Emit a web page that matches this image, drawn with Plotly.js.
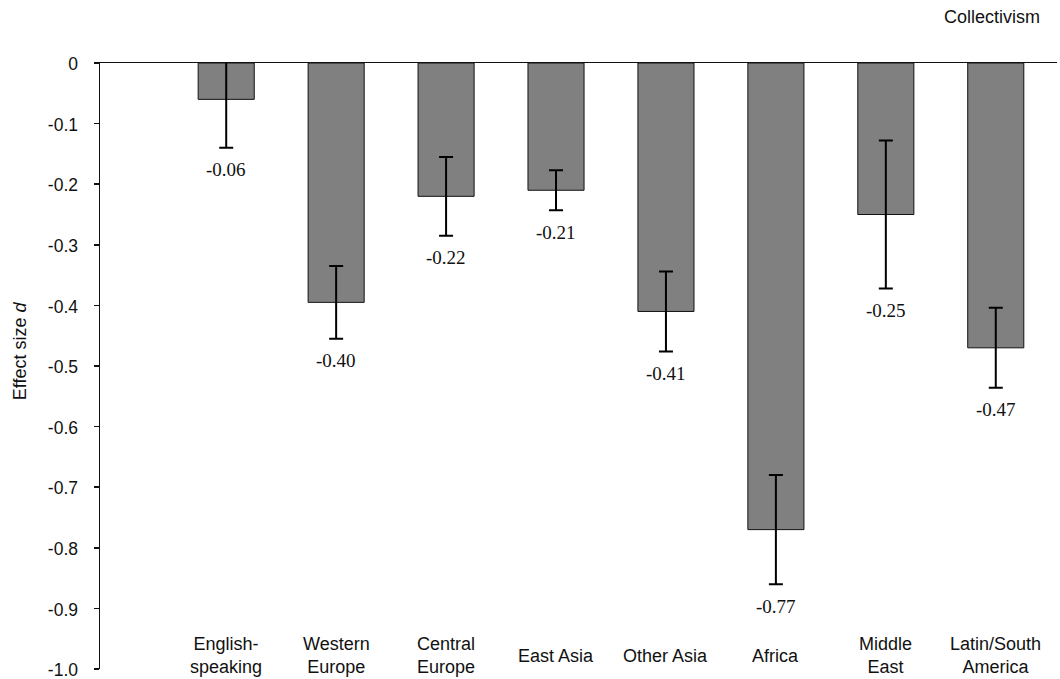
<!DOCTYPE html>
<html>
<head>
<meta charset="utf-8">
<script src="https://cdn.plot.ly/plotly-3.0.1.min.js"></script>
<style>html,body{margin:0;padding:0;background:#fff;}#chart{width:1060px;height:679px;}</style>
</head>
<body>
<div id="chart"></div>
<script>
// Data
var categories = ["English-<br>speaking", "Western<br>Europe", "Central<br>Europe", "East Asia", "Other Asia", "Africa", "Middle<br>East", "Latin/South<br>America"];
var effectSizes = [-0.06, -0.395, -0.22, -0.21, -0.41, -0.77, -0.25, -0.47];
var valueLabels = ["-0.06", "-0.40", "-0.22", "-0.21", "-0.41", "-0.77", "-0.25", "-0.47"];
var errors = [0.08, 0.06, 0.065, 0.033, 0.066, 0.09, 0.122, 0.066];
var yTickVals = [0, -0.1, -0.2, -0.3, -0.4, -0.5, -0.6, -0.7, -0.8, -0.9, -1.0];
var yTickText = ["0", "-0.1", "-0.2", "-0.3", "-0.4", "-0.5", "-0.6", "-0.7", "-0.8", "-0.9", "-1.0"];

var xIdx = categories.map(function (c, i) { return i; });

var trace = {
  type: 'bar',
  x: xIdx,
  y: effectSizes,
  width: 0.51,
  marker: { color: '#808080', line: { color: '#111', width: 1 } },
  error_y: { type: 'data', array: errors, visible: true, color: '#000', thickness: 2, width: 7 },
  hoverinfo: 'skip',
  cliponaxis: true
};

var annotations = [];
categories.forEach(function (c, i) {
  annotations.push({
    x: i, xref: 'x', y: 0.022, yref: 'paper', yanchor: 'middle', xanchor: 'center',
    text: c, showarrow: false, align: 'center',
    font: { family: 'Liberation Sans, Arial, sans-serif', size: 18, color: '#111' }
  });
  annotations.push({
    x: i, xref: 'x', y: effectSizes[i] - errors[i], yref: 'y', yanchor: 'middle', xanchor: 'center',
    yshift: -22, text: valueLabels[i], showarrow: false,
    font: { family: 'Liberation Serif, Times New Roman, serif', size: 19, color: '#111' }
  });
});
annotations.push({
  x: -0.0836, xref: 'paper', y: 0.526, yref: 'paper', xanchor: 'center', yanchor: 'middle',
  text: 'Effect size <i>d</i>', textangle: -90, showarrow: false,
  font: { family: 'Liberation Sans, Arial, sans-serif', size: 18, color: '#111' }
});
annotations.push({
  x: 0.984, xref: 'paper', y: 1.0753, yref: 'paper', xanchor: 'right', yanchor: 'middle',
  text: 'Collectivism', showarrow: false,
  font: { family: 'Liberation Sans, Arial, sans-serif', size: 18, color: '#111' }
});

var layout = {
  width: 1060, height: 679,
  margin: { l: 100, r: 3, t: 62.7, b: 9.7, pad: 0 },
  paper_bgcolor: '#fff', plot_bgcolor: '#fff',
  showlegend: false,
  xaxis: {
    range: [-1.148, 7.557], side: 'top', showline: true, linecolor: '#111', linewidth: 1.5,
    showticklabels: false, ticks: '', showgrid: false, zeroline: false, fixedrange: true
  },
  yaxis: {
    range: [-1.0, 0], showline: true, linecolor: '#111', linewidth: 1.5,
    ticks: 'outside', ticklen: 5, tickwidth: 1.5, tickcolor: '#111',
    tickvals: yTickVals, ticktext: yTickText, ticklabelstandoff: 12, ticklabelshift: 1,
    ticklabeloverflow: 'allow',
    tickfont: { family: 'Liberation Sans, Arial, sans-serif', size: 17.5, color: '#111' },
    showgrid: false, zeroline: false, fixedrange: true
  },
  annotations: annotations
};

Plotly.newPlot('chart', [trace], layout, { displayModeBar: false, staticPlot: true });
</script>
</body>
</html>
